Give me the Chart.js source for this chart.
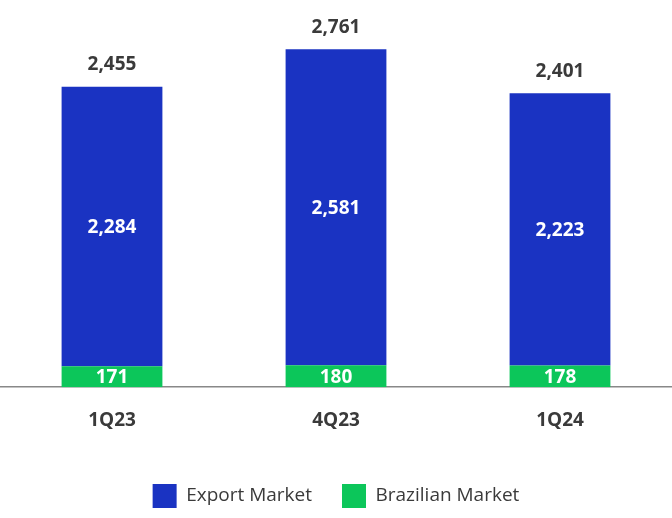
<!DOCTYPE html>
<html><head><meta charset="utf-8">
<script src="https://cdn.jsdelivr.net/npm/chart.js@4/dist/chart.umd.min.js"></script>
<style>html,body{margin:0;padding:0;background:#fff}#w{width:672px;height:518px}</style>
</head><body><div id="w"><canvas id="c"></canvas></div>
<script>
const categories=["1Q23","4Q23","1Q24"];
const brazilian=[171,180,178];
const exportMkt=[2284,2581,2223];
const totals=[2455,2761,2401];
const fmt=v=>v.toLocaleString('en-US');
const F="'Open Sans', sans-serif";
const labels={id:'labels',afterDatasetsDraw(ch){
  const ctx=ch.ctx;ctx.save();ctx.textAlign='center';ctx.textBaseline='middle';
  ctx.font="bold 19px "+F;
  ch.data.datasets.forEach((ds,di)=>{ch.getDatasetMeta(di).data.forEach((b,i)=>{
    ctx.fillStyle='#fff';ctx.fillText(fmt(ds.data[i]),b.x,(b.y+b.base)/2+1);});});
  const m=ch.getDatasetMeta(1);
  ctx.fillStyle='#3a3a3a';
  m.data.forEach((b,i)=>ctx.fillText(fmt(totals[i]),b.x,b.y-22));
  ctx.restore();}};
new Chart(document.getElementById('c'),{type:'bar',
 data:{labels:categories,datasets:[
  {label:'Brazilian Market',data:brazilian,backgroundColor:'#0cc65a'},
  {label:'Export Market',data:exportMkt,backgroundColor:'#1a33c2'}]},
 options:{responsive:true,maintainAspectRatio:false,animation:false,
  layout:{padding:{top:0,left:0,right:0,bottom:0}},
  datasets:{bar:{barPercentage:0.45,categoryPercentage:1}},
  scales:{
   x:{stacked:true,grid:{display:false,drawTicks:false},border:{color:'#888',width:1.5},
      ticks:{padding:22,color:'#3a3a3a',font:{family:F,size:19,weight:'bold'}}},
   y:{stacked:true,min:0,max:3163,display:false}},
  plugins:{tooltip:{enabled:false},
   legend:{position:'bottom',reverse:true,labels:{boxWidth:24,boxHeight:24,padding:30,color:'#3a3a3a',font:{family:F,size:19}}}}}
 ,plugins:[labels]});
</script></body></html>
